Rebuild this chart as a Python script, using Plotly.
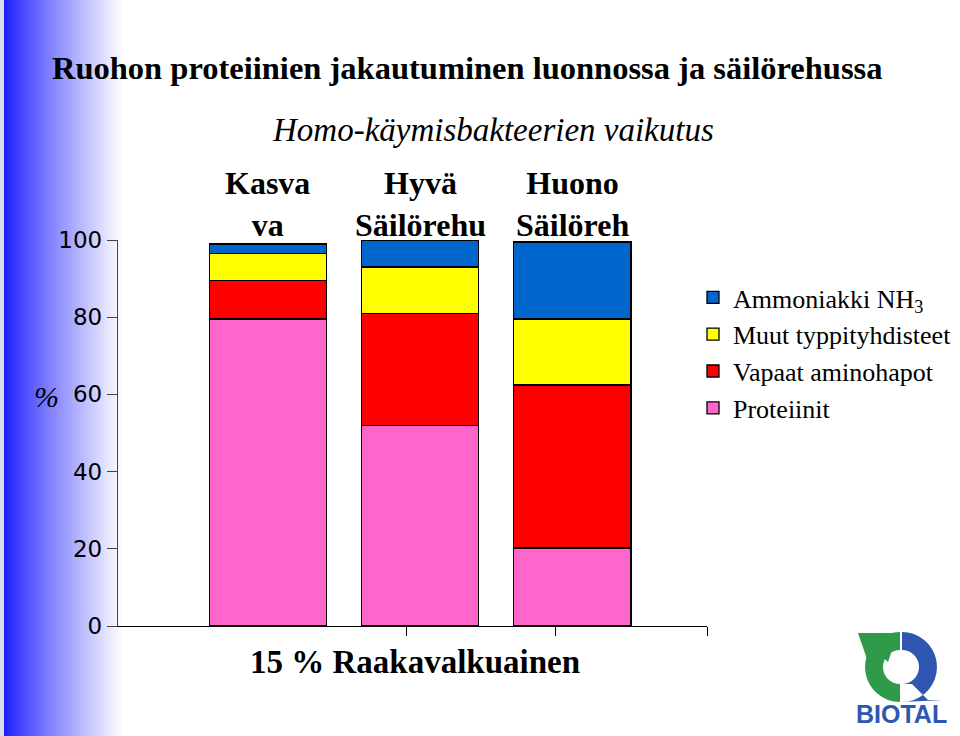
import plotly.graph_objects as go
import math

# ---- data ----
categories = ["Kasva<br>va", "Hyvä<br>Säilörehu", "Huono<br>Säilöreh"]
proteiinit = [79.5, 52.0, 20.2]
vapaat_aminohapot = [10.0, 29.0, 42.2]
muut_typpi = [7.0, 12.0, 17.1]
ammoniakki = [2.5, 7.0, 20.0]
y_ticks = [0, 20, 40, 60, 80, 100]

series = [
    ("Proteiinit", proteiinit, "#FF66CC"),
    ("Vapaat aminohapot", vapaat_aminohapot, "#FF0000"),
    ("Muut typpityhdisteet", muut_typpi, "#FFFF00"),
    ("Ammoniakki NH<sub>3</sub>", ammoniakki, "#0066CC"),
]

W, H = 960, 736
L, R, T, B = 118, 253, 240, 110
PW, PH = W - L - R, H - T - B


def px(x):
    return (x - L) / PW


def py(y):
    return (H - B - y) / PH


xs = list(range(len(categories)))

fig = go.Figure()
for name, vals, col in series:
    fig.add_trace(go.Bar(
        x=xs, y=vals, name=name, width=0.77,
        marker=dict(color=col, line=dict(color="black", width=1.3)),
    ))

shapes = []
# gradient band on the left
n = 60
x0, x1 = 4, 124
for i in range(n):
    t = i / (n - 1)
    tt = t ** 0.85
    r = int(28 + (255 - 28) * tt)
    g = int(28 + (255 - 28) * tt)
    shapes.append(dict(type="rect", xref="paper", yref="paper",
                       x0=px(x0 + (x1 - x0) * i / n), x1=px(x0 + (x1 - x0) * (i + 1) / n + 0.5),
                       y0=py(H), y1=py(0), line=dict(width=0),
                       fillcolor=f"rgb({r},{g},255)", layer="below"))
shapes.append(dict(type="rect", xref="paper", yref="paper", x0=px(0), x1=px(4),
                   y0=py(H), y1=py(0), line=dict(width=0), fillcolor="#dcdcec", layer="below"))


# BIOTAL logo (approximate)
def path(points):
    return "M " + " L ".join(f"{px(a)},{py(b)}" for a, b in points) + " Z"


cx, cy, Ro, Ri = 900, 667, 35, 17
green = [(900, 632)]
for k in range(0, 19):
    a = math.pi / 2 + math.pi * k / 18
    green.append((cx + Ro * math.cos(a), cy - Ro * math.sin(a)))
for k in range(18, -1, -1):
    a = math.pi / 2 + math.pi * k / 18
    green.append((cx + Ri * math.cos(a), cy - Ri * math.sin(a)))
blue = []
for k in range(0, 19):
    a = math.pi / 2 - math.pi * k / 18
    blue.append((cx + 2 + Ro * math.cos(a), cy - Ro * math.sin(a)))
blue += [(943, 700), (928, 700), (912, 684)]
for k in range(18, -1, -1):
    a = math.pi / 2 - math.pi * k / 18
    blue.append((cx + 2 + Ri * math.cos(a), cy - Ri * math.sin(a)))
arrow = [(858, 633), (898, 633), (888, 662), (878, 652), (868, 662)]
shapes.append(dict(type="path", xref="paper", yref="paper", path=path(green),
                   fillcolor="#2e9a4a", line=dict(width=0)))
shapes.append(dict(type="path", xref="paper", yref="paper", path=path(arrow),
                   fillcolor="#2e9a4a", line=dict(width=0)))
shapes.append(dict(type="path", xref="paper", yref="paper", path=path(blue),
                   fillcolor="#2f56b0", line=dict(width=0)))

annotations = []
for i, c in enumerate(categories):
    annotations.append(dict(x=i, xref="x", y=py(204), yref="paper", text=f"<b>{c}</b>",
                            showarrow=False, font=dict(family="Liberation Serif", size=32, color="black"),
                            xanchor="center", yanchor="middle"))
annotations += [
    dict(x=px(50), y=py(68), xref="paper", yref="paper", xanchor="left", yanchor="middle",
         text="<b>Ruohon proteiinien jakautuminen luonnossa ja säilörehussa</b>", showarrow=False,
         font=dict(family="Liberation Serif", size=32.5, color="black")),
    dict(x=px(493), y=py(130), xref="paper", yref="paper", xanchor="center", yanchor="middle",
         text="<i>Homo-käymisbakteerien vaikutus</i>", showarrow=False,
         font=dict(family="Liberation Serif", size=33, color="black")),
    dict(x=px(46), y=py(396), xref="paper", yref="paper", xanchor="center", yanchor="middle",
         text="<i>%</i>", showarrow=False,
         font=dict(family="Liberation Serif", size=30, color="black")),
    dict(x=px(415), y=py(662), xref="paper", yref="paper", xanchor="center", yanchor="middle",
         text="<b>15 % Raakavalkuainen</b>", showarrow=False,
         font=dict(family="Liberation Serif", size=33, color="black")),
    dict(x=px(901), y=py(714), xref="paper", yref="paper", xanchor="center", yanchor="middle",
         text="<b>BIOTAL</b>", showarrow=False,
         font=dict(family="Liberation Sans", size=25, color="#2f56b0")),
]

fig.update_layout(
    width=W, height=H,
    margin=dict(l=L, r=R, t=T, b=B, autoexpand=False),
    paper_bgcolor="white", plot_bgcolor="white",
    barmode="stack", bargap=0.2,
    xaxis=dict(range=[-0.985, 2.884], showgrid=False, zeroline=False,
               showline=True, linecolor="black", linewidth=1.3,
               tickmode="array", tickvals=[0.91, 1.887, 2.884], showticklabels=False,
               ticks="outside", ticklen=9, tickwidth=1.3, tickcolor="black"),
    yaxis=dict(range=[0, 100], showgrid=False, zeroline=False,
               showline=True, linecolor="#444", linewidth=1.3,
               tickmode="array", tickvals=y_ticks, ticks="outside", ticklen=10,
               tickwidth=1.3, tickcolor="#444",
               tickfont=dict(family="DejaVu Sans", size=23, color="black")),
    legend=dict(x=px(693), y=py(274), xref="paper", yref="paper", xanchor="left", yanchor="top",
                traceorder="reversed", font=dict(family="Liberation Serif", size=26, color="black"),
                bgcolor="rgba(0,0,0,0)", itemwidth=30),
    shapes=shapes,
    annotations=annotations,
)

fig.write_html("out.html")
